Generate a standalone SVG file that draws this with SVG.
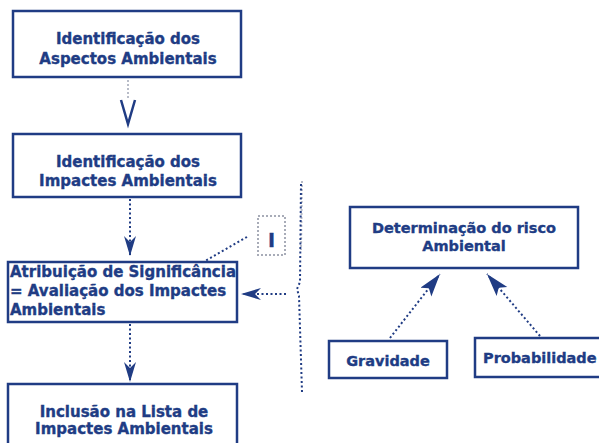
<svg xmlns="http://www.w3.org/2000/svg" width="599" height="443" viewBox="0 0 599 443">
<style>
.box{fill:#ffffff;stroke:#203c84;stroke-width:2.5}
.t{font-family:"DejaVu Sans","Verdana",sans-serif;font-weight:bold;fill:#203c84;stroke:#203c84;stroke-width:0.35;font-size:15px}
.tc{text-anchor:middle}
.ts{font-size:14.5px}
.dot{fill:none;stroke:#203c84;stroke-width:2;stroke-dasharray:2 2.5}
.faint{fill:none;stroke:#b8bcc8;stroke-width:2;stroke-dasharray:2 2}
.ah{fill:#203c84}
</style>
<defs>
<marker id="narrow" markerUnits="userSpaceOnUse" markerWidth="22" markerHeight="14" refX="20" refY="6" orient="auto">
<path class="ah" d="M0,0 L20,6 L0,12 L6,6 Z"/>
</marker>
<marker id="big" markerUnits="userSpaceOnUse" markerWidth="24" markerHeight="16" refX="23" refY="7" orient="auto">
<path class="ah" d="M0,0 L23,7 L0,14 L5,7 Z"/>
</marker>
</defs>
<rect width="599" height="443" fill="#ffffff"/>

<g id="connectors">
<line class="faint" x1="128" y1="80" x2="128" y2="98"/>
<path d="M121,100 L128,124 L135,100" fill="none" stroke="#203c84" stroke-width="2.5"/>
<line class="dot" x1="130" y1="199" x2="130" y2="256" marker-end="url(#narrow)"/>
<line class="dot" x1="130" y1="324" x2="130" y2="382" marker-end="url(#narrow)"/>
<line class="dot" x1="286" y1="294" x2="241" y2="294" marker-end="url(#narrow)"/>
<line class="dot" x1="247" y1="237" x2="205" y2="261"/>
<path class="faint" d="M302,181 L301,250"/>
<path class="dot" d="M301,184 L300,282 L297,289 L299,296 L302,392"/>
<line class="dot" x1="390" y1="338" x2="440" y2="274" marker-end="url(#big)"/>
<line class="dot" x1="540" y1="336" x2="487" y2="274" marker-end="url(#big)"/>
</g>

<g id="n-aspectos">
<rect class="box" x="13" y="11" width="228" height="66"/>
<text class="t tc" x="128" y="44">Identificação dos</text>
<text class="t tc" x="128" y="64">Aspectos Ambientais</text>
</g>

<g id="n-impactes">
<rect class="box" x="13" y="134" width="228" height="63"/>
<text class="t tc" x="128" y="167">Identificação dos</text>
<text class="t tc" x="128" y="186">Impactes Ambientais</text>
</g>

<g id="n-atribuicao">
<rect class="box" x="8" y="262" width="229" height="60"/>
<text class="t" x="10" y="277">Atribuição de Significância</text>
<text class="t" x="10" y="296">= Avaliação dos Impactes</text>
<text class="t" x="10" y="315">Ambientais</text>
</g>

<g id="n-inclusao">
<rect class="box" x="8" y="384" width="229" height="70"/>
<text class="t tc" x="124" y="417">Inclusão na Lista de</text>
<text class="t tc" x="124" y="434">Impactes Ambientais</text>
</g>

<g id="n-i">
<rect x="258" y="216" width="27" height="39" fill="none" stroke="#a8acb8" stroke-width="2" stroke-dasharray="2 2"/>
<text class="t tc" x="271.5" y="247" style="font-size:19px">I</text>
</g>

<g id="n-risco">
<rect class="box" x="350" y="207" width="228" height="61"/>
<text class="t tc ts" x="464" y="233">Determinação do risco</text>
<text class="t tc ts" x="464" y="251">Ambiental</text>
</g>

<g id="n-gravidade">
<rect class="box" x="329" y="341" width="118" height="37"/>
<text class="t tc ts" x="388" y="366">Gravidade</text>
</g>

<g id="n-probabilidade">
<rect class="box" x="475" y="338" width="140" height="39"/>
<text class="t ts" x="483" y="363">Probabilidade</text>
</g>
</svg>
